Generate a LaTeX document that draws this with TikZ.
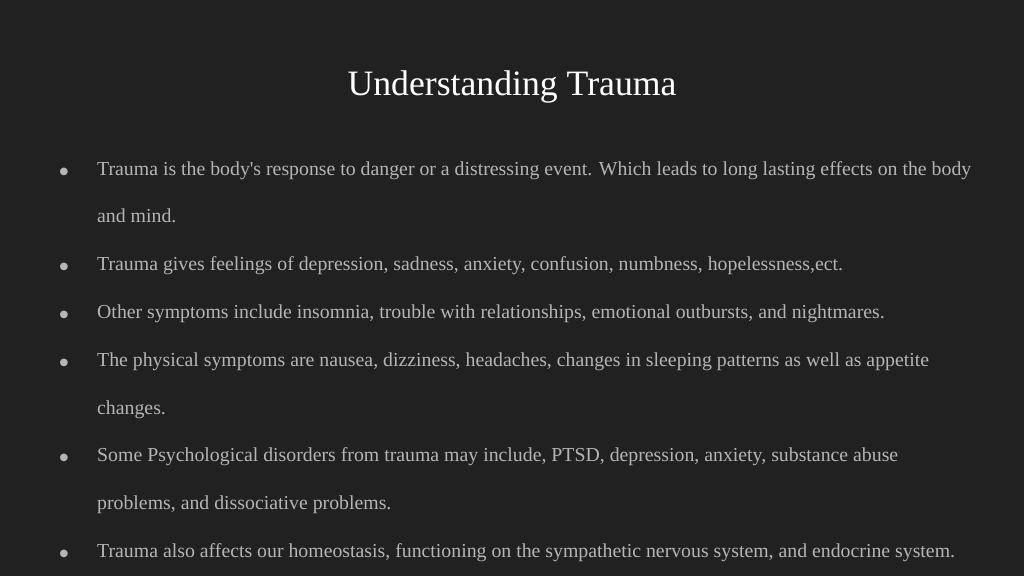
\documentclass[tikz,border=0pt]{standalone}
\usepackage{fontspec}
\setmainfont{Liberation Serif}
\newfontfamily\symf{DejaVu Sans}
\definecolor{bg}{HTML}{212121}
\definecolor{fg}{HTML}{B5B5B5}
\begin{document}
\begin{tikzpicture}[x=1pt,y=-1pt,
  line/.style={anchor=base west,inner sep=0pt,text=fg,font=\fontsize{19.8}{21}\selectfont},
  bul/.style={anchor=base,inner sep=0pt,text=fg,font=\symf\fontsize{10}{10}\selectfont}]
\fill[bg] (0,0) rectangle (1024,576);
\useasboundingbox (0,0) rectangle (1024,576);
\node[anchor=base,inner sep=0pt,text=white,font=\fontsize{35.7}{37}\selectfont] (title) at (512,95) {Understanding Trauma};
\foreach \y/\t [count=\i] in {
 175/{Trauma is the body\textquotesingle s response to danger or a distressing event. Which leads to long lasting effects on the body},
 222/{and mind.},
 270/{Trauma gives feelings of depression, sadness, anxiety, confusion, numbness, hopelessness,ect.},
 318/{Other symptoms include insomnia, trouble with relationships, emotional outbursts, and nightmares.},
 366/{The physical symptoms are nausea, dizziness, headaches, changes in sleeping patterns as well as appetite},
 414/{changes.},
 461/{Some Psychological disorders from trauma may include, PTSD, depression, anxiety, substance abuse},
 509/{problems, and dissociative problems.},
 557/{Trauma also affects our homeostasis, functioning on the sympathetic nervous system, and endocrine system.}}
 {\node[line] (l\i) at (97,\y) {\t};}
\foreach \i in {1,3,4,5,7,9}
 {\node[bul] (b\i) at (64,0 |- l\i.base) [yshift=1pt] {●};}
\end{tikzpicture}
\end{document}
